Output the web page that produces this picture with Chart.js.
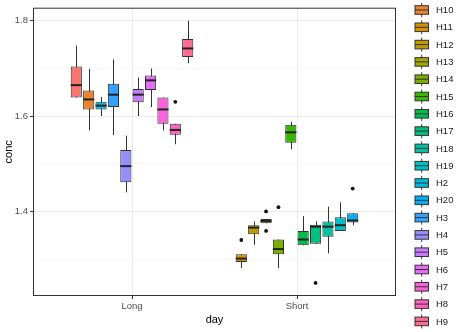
<!DOCTYPE html>
<html><head><meta charset="utf-8">
<script src="https://cdn.jsdelivr.net/npm/chart.js@4.4.1/dist/chart.umd.min.js"></script>
<style>html,body{margin:0;padding:0;background:#fff;}#wrap{width:471px;height:332px;position:relative;}</style>
</head><body><div id="wrap"><canvas id="c" width="471" height="332"></canvas></div>
<script>
// ---- data ----
const categories = ['Long', 'Short'];
const groups = ['H1','H10','H11','H12','H13','H14','H15','H16','H17','H18','H19','H2','H20','H3','H4','H5','H6','H7','H8','H9'];
const groupDay = ['Long','Long','Short','Short','Short','Short','Short','Short','Short','Short','Short','Long','Short','Long','Long','Long','Long','Long','Long','Long'];
const lowerWhisker = [1.639,1.570,1.281,1.330,1.375,1.281,1.530,1.329,1.332,1.312,1.359,1.600,1.371,1.560,1.440,1.600,1.619,1.570,1.541,1.711];
const q1Values     = [1.639,1.614,1.294,1.352,1.375,1.310,1.544,1.329,1.332,1.347,1.359,1.614,1.377,1.619,1.461,1.629,1.655,1.584,1.561,1.724];
const medianValues = [1.665,1.635,1.301,1.366,1.380,1.321,1.566,1.341,1.368,1.368,1.371,1.622,1.381,1.645,1.495,1.645,1.675,1.614,1.571,1.742];
const q3Values     = [1.704,1.654,1.310,1.371,1.384,1.341,1.582,1.359,1.372,1.379,1.388,1.630,1.396,1.668,1.529,1.657,1.685,1.639,1.584,1.762];
const upperWhisker = [1.748,1.699,1.310,1.379,1.384,1.341,1.588,1.390,1.379,1.410,1.419,1.640,1.396,1.719,1.559,1.681,1.700,1.639,1.584,1.800];
const outliers = [[],[],[1.340],[],[1.400,1.359],[1.409],[],[],[1.250],[],[],[],[1.448],[],[],[],[],[],[1.630],[]];
const yTicks = [1.3, 1.4, 1.5, 1.6, 1.7, 1.8];
const yLabelTicks = [1.4, 1.6, 1.8];
const colors = ['#F8766D','#EA8331','#D89000','#C09B00','#A3A500','#7CAE00','#39B600','#00BB4E','#00BF7D','#00C1A3','#00BFC4','#00BAE0','#00B0F6','#35A2FF','#9590FF','#C77CFF','#E76BF3','#FA62DB','#FF62BC','#FF6C91'];

Chart.defaults.font.family = '"Liberation Sans", Arial, sans-serif';

const datasets = groups.map((g, i) => ({
  label: g,
  data: categories.map((c, k) => ({ x: k + 1, y: groupDay[i] === c ? [q1Values[i], q3Values[i]] : null })),
  backgroundColor: colors[i],
  borderColor: '#333333',
  borderWidth: 1,
  borderSkipped: false,
  skipNull: true,
  categoryPercentage: 0.75,
  barPercentage: 0.9
}));

const isMajor = v => yLabelTicks.some(t => Math.abs(t - v) < 1e-6);

const boxPlugin = {
  id: 'boxplot',
  beforeDatasetsDraw(chart) {
    const ctx = chart.ctx, y = chart.scales.y;
    ctx.save();
    ctx.strokeStyle = '#333333';
    ctx.lineWidth = 1;
    groups.forEach((g, i) => {
      const k = categories.indexOf(groupDay[i]);
      const el = chart.getDatasetMeta(i).data[k];
      if (!el) return;
      const x = Math.round(el.x) + 0.5;
      ctx.beginPath();
      ctx.moveTo(x, y.getPixelForValue(lowerWhisker[i]));
      ctx.lineTo(x, y.getPixelForValue(upperWhisker[i]));
      ctx.stroke();
    });
    ctx.restore();
  },
  afterDatasetsDraw(chart) {
    const ctx = chart.ctx, y = chart.scales.y;
    ctx.save();
    groups.forEach((g, i) => {
      const k = categories.indexOf(groupDay[i]);
      const el = chart.getDatasetMeta(i).data[k];
      if (!el) return;
      const py = y.getPixelForValue(medianValues[i]);
      ctx.strokeStyle = '#222222';
      ctx.lineWidth = 2;
      ctx.beginPath();
      ctx.moveTo(el.x - el.width / 2, py);
      ctx.lineTo(el.x + el.width / 2, py);
      ctx.stroke();
      ctx.fillStyle = '#111111';
      outliers[i].forEach(v => {
        ctx.beginPath();
        ctx.arc(el.x, y.getPixelForValue(v), 1.9, 0, Math.PI * 2);
        ctx.fill();
      });
    });
    ctx.restore();
  },
  afterDraw(chart) {
    const ctx = chart.ctx, a = chart.chartArea;
    ctx.save();
    ctx.strokeStyle = '#333333';
    ctx.lineWidth = 1;
    ctx.strokeRect(a.left + 0.5, a.top + 0.5, a.right - a.left - 1, a.bottom - a.top - 1);
    // legend
    const step = 17.3, top = -7.3, cx = 421.7;
    ctx.font = '9.5px "Liberation Sans", Arial, sans-serif';
    ctx.textBaseline = 'middle';
    ctx.textAlign = 'left';
    groups.forEach((g, i) => {
      const cy = top + i * step;
      ctx.strokeStyle = '#333333';
      ctx.lineWidth = 1;
      ctx.beginPath();
      ctx.moveTo(cx, cy - 7);
      ctx.lineTo(cx, cy + 7);
      ctx.stroke();
      ctx.fillStyle = colors[i];
      ctx.fillRect(415, cy - 4.3, 13.5, 8.6);
      ctx.strokeRect(415, cy - 4.3, 13.5, 8.6);
      ctx.beginPath();
      ctx.moveTo(415, cy);
      ctx.lineTo(428.5, cy);
      ctx.stroke();
      ctx.fillStyle = '#1a1a1a';
      ctx.fillText(g, 436, cy + 0.5);
    });
    ctx.restore();
  }
};

new Chart(document.getElementById('c'), {
  type: 'bar',
  data: { datasets },
  options: {
    responsive: false,
    animation: false,
    devicePixelRatio: 1,
    layout: { padding: { left: 0, top: 4, right: 75, bottom: 0 } },
    plugins: { legend: { display: false }, tooltip: { enabled: false } },
    scales: {
      x: {
        type: 'linear',
        min: 0.4, max: 2.6,
        offset: false,
        afterBuildTicks: s => { s.ticks = categories.map((c, k) => ({ value: k + 1 })); },
        afterFit: s => { s.height = 36; },
        grid: { offset: false, color: '#EBEBEB', lineWidth: 1, tickLength: 3, tickColor: '#333333' },
        border: { display: false },
        ticks: { padding: 1.5, color: '#4D4D4D', font: { size: 9.5 }, maxRotation: 0, autoSkip: false,
          callback: v => categories[Math.round(v) - 1] },
        title: { display: true, text: 'day', color: '#000', font: { size: 11 }, padding: { top: 0, bottom: 5.4 } }
      },
      y: {
        type: 'linear',
        min: 1.2225, max: 1.8275,
        afterBuildTicks: s => { s.ticks = yTicks.map(v => ({ value: v })); },
        afterFit: s => { s.width = 33; },
        grid: {
          color: c => (c.tick && isMajor(c.tick.value)) ? '#EBEBEB' : '#F3F3F3',
          lineWidth: c => (c.tick && isMajor(c.tick.value)) ? 1 : 0.6,
          tickLength: 3,
          tickColor: c => (c.tick && isMajor(c.tick.value)) ? '#333333' : 'rgba(0,0,0,0)'
        },
        border: { display: false },
        ticks: { padding: 2, color: '#4D4D4D', font: { size: 9.5 }, autoSkip: false,
          callback: v => isMajor(v) ? v.toFixed(1) : '' },
        title: { display: true, text: 'conc', color: '#000', font: { size: 11 }, padding: { top: 2.4, bottom: 0 } }
      }
    }
  },
  plugins: [boxPlugin]
});
</script>
</body></html>
